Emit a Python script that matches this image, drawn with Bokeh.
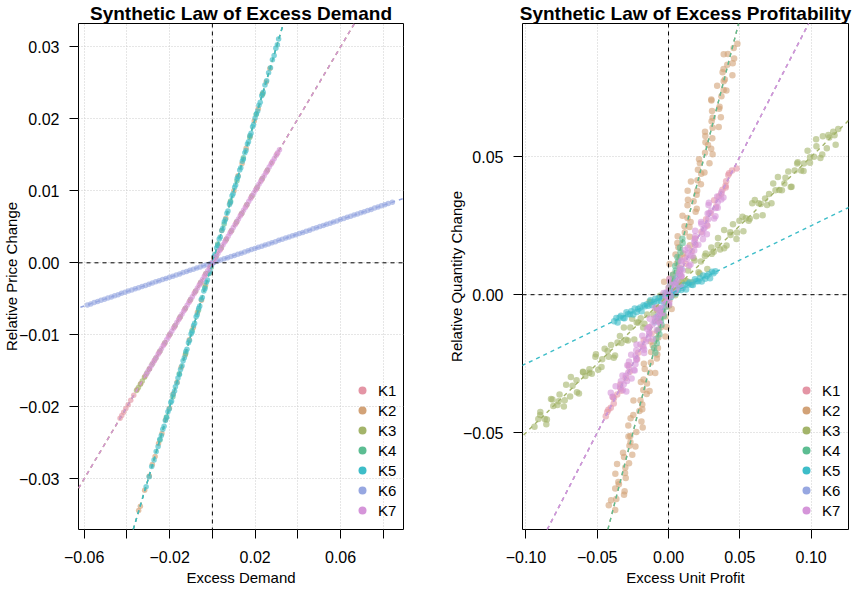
from bokeh.plotting import figure
from bokeh.models import (Range1d, FixedTicker, CustomJSTickFormatter, Slope, Span,
                          Legend, LegendItem)
from bokeh.layouts import row
from bokeh.embed import file_html
from bokeh.resources import INLINE

GROUPS = ["K1", "K2", "K3", "K4", "K5", "K6", "K7"]
COLORS = ["#E495A5", "#D2A277", "#A3B46A", "#5CBD92", "#3DBDC8", "#97A7E1", "#D595D9"]

# ---------------- left panel: excess demand vs relative price change ----------------
left_k1_x = [-.0432,-.0424,-.0415,-.0405,-.0394,-.0382,-.0368,-.0352,-.0335,-.0315,
             -.0294,-.0272,-.0250,-.0226,-.0202,-.0178,-.0154,-.0130,-.0106,-.0082,
             -.0058,-.0034,-.0010,.0014,.0038,.0062,.0086,.0110,.0134,.0158,
             .0182,.0206,.0230,.0254,.0278,.0302]
left_k1_y = [-.0216,-.0212,-.02075,-.02025,-.0197,-.0191,-.0184,-.0176,-.01675,-.01575,
             -.0147,-.0136,-.0125,-.0113,-.0101,-.0089,-.0077,-.0065,-.0053,-.0041,
             -.0029,-.0017,-.0005,.0007,.0019,.0031,.0043,.0055,.0067,.0079,
             .0091,.0103,.0115,.0127,.0139,.0151]
left_k2_x = [-.0345,-.0337,-.0317,-.0295,-.0281,-.0268,-.0252,-.0236,-.0219,-.0201,
             -.0183,-.0165,-.0146,-.0127,-.0108,-.0089,-.0070,-.0051,-.0032,-.0013,
             .0006,.0025,.0044,.0063,.0082,.0101,.0120,.0139,.0158,.0177,
             .0196,.0215,.0234,.0252,.0269]
left_k2_y = [-.0344,-.0338,-.0316,-.0296,-.0280,-.0269,-.0251,-.0237,-.0218,-.0202,
             -.0182,-.0166,-.0145,-.0128,-.0107,-.0090,-.0069,-.0052,-.0031,-.0014,
             .0007,.0024,.0045,.0062,.0083,.0100,.0121,.0138,.0159,.0176,
             .0197,.0214,.0235,.0251,.0270]
left_k3_x = [-.0355,-.0346,-.0337,-.0328,-.0318,-.0307,-.0295,-.0282,-.0265,-.0245,
             -.0222,-.0198,-.0174,-.0150,-.0126,-.0102,-.0078,-.0054,-.0030,-.0006,
             .0018,.0042,.0066,.0090,.0114,.0138,.0162,.0186,.0210,.0234,.0258]
left_k3_y = [-.01775,-.0173,-.01685,-.0164,-.0159,-.01535,-.01475,-.0141,-.01325,-.01225,
             -.0111,-.0099,-.0087,-.0075,-.0063,-.0051,-.0039,-.0027,-.0015,-.0003,
             .0009,.0021,.0033,.0045,.0057,.0069,.0081,.0093,.0105,.0117,.0129]
left_k4_x = [-.0245,-.0215,-.0185,-.0155,-.0125,-.0095,-.0065,-.0035,-.0005,.0025,
             .0055,.0085,.0115,.0145,.0175,.0205,.0235]
left_k4_y = [-.0246,-.0214,-.0186,-.0154,-.0126,-.0094,-.0066,-.0034,-.0006,.0026,
             .0054,.0086,.0114,.0146,.0174,.0206,.0234]
left_k5_x = [-.0310,-.0296,-.0284,-.0273,-.0263,-.0254,-.0246,-.0239,-.0232,-.0226,-.0220,-.0214,-.0208,
             -.0202,-.0195,-.0191,-.0184,-.0177,-.0173,-.0166,-.0161,-.0154,-.0149,
             -.0142,-.0137,-.0131,-.0124,-.0119,-.0112,-.0107,-.0100,-.0095,-.0088,
             -.0083,-.0076,-.0071,-.0064,-.0059,-.0052,-.0047,-.0040,-.0035,-.0028,
             -.0023,-.0016,-.0011,-.0004,.0001,.0008,.0013,.0020,.0025,.0032,
             .0037,.0044,.0049,.0056,.0061,.0068,.0073,.0080,.0085,.0092,
             .0097,.0104,.0109,.0116,.0121,.0128,.0133,.0140,.0145,.0152,
             .0157,.0164,.0169,.0176,.0181,.0188,.0193,.0200,
             .0206,.0212,.0218,.0224,.0231,.0238,.0246,.0254,.0263,.0272,.0281,.0289,.0297,.0304,.0310]
left_k5_y = [-.0311,-.0297,-.0283,-.0274,-.0262,-.0255,-.0245,-.0240,-.0231,-.0227,-.0219,-.0215,-.0207,
             -.0203,-.0194,-.0192,-.0183,-.0178,-.0172,-.0167,-.0160,-.0155,-.0148,
             -.0143,-.0136,-.0132,-.0123,-.0120,-.0111,-.0108,-.0099,-.0096,-.0087,
             -.0084,-.0075,-.0072,-.0063,-.0060,-.0051,-.0048,-.0039,-.0036,-.0027,
             -.0024,-.0015,-.0012,-.0003,.0000,.0009,.0012,.0021,.0024,.0033,
             .0036,.0045,.0048,.0057,.0060,.0069,.0072,.0081,.0084,.0093,
             .0096,.0105,.0108,.0117,.0120,.0129,.0132,.0141,.0144,.0153,
             .0156,.0165,.0168,.0177,.0180,.0189,.0192,.0201,
             .0207,.0211,.0219,.0223,.0232,.0237,.0247,.0253,.0264,.0271,.0282,.0288,.0298,.0303,.0311]
left_k6_x = [-.0585,-.0569,-.0553,-.0537,-.0521,-.0505,-.0489,-.0473,-.0457,-.0441,
             -.0425,-.0409,-.0393,-.0377,-.0361,-.0345,-.0329,-.0313,-.0297,-.0281,
             -.0265,-.0249,-.0233,-.0217,-.0201,-.0185,-.0169,-.0153,-.0137,-.0121,
             -.0105,-.0089,-.0073,-.0057,-.0041,-.0025,-.0009,.0007,.0023,.0039,
             .0055,.0071,.0087,.0103,.0119,.0135,.0151,.0167,.0183,.0199,
             .0215,.0231,.0247,.0263,.0279,.0295,.0311,.0327,.0343,.0359,
             .0375,.0391,.0407,.0423,.0439,.0455,.0471,.0487,.0503,.0519,
             .0535,.0551,.0567,.0583,.0599,.0615,.0631,.0647,.0663,.0679,
             .0695,.0711,.0727,.0743,.0759,.0775,.0791,.0807,.0823,.0842]
left_k6_y = [-.00585,-.00571,-.00552,-.00538,-.00520,-.00506,-.00488,-.00474,-.00456,-.00442,
             -.00424,-.00410,-.00392,-.00378,-.00360,-.00346,-.00328,-.00314,-.00296,-.00282,
             -.00264,-.00250,-.00232,-.00218,-.00200,-.00186,-.00168,-.00154,-.00136,-.00122,
             -.00104,-.00090,-.00072,-.00058,-.00040,-.00026,-.00008,.00006,.00024,.00038,
             .00056,.00070,.00088,.00102,.00120,.00134,.00152,.00166,.00184,.00198,
             .00216,.00230,.00248,.00262,.00280,.00294,.00312,.00326,.00344,.00358,
             .00376,.00390,.00408,.00422,.00440,.00454,.00472,.00486,.00504,.00518,
             .00536,.00550,.00568,.00582,.00600,.00614,.00632,.00646,.00664,.00678,
             .00696,.00710,.00728,.00742,.00760,.00774,.00792,.00806,.00824,.00842]
left_k7_x = [-.0310,-.0302,-.0294,-.0286,-.0278,-.0270,-.0262,-.0254,-.0246,-.0238,
             -.0230,-.0222,-.0214,-.0206,-.0198,-.0190,-.0182,-.0174,-.0166,-.0158,
             -.0150,-.0142,-.0134,-.0126,-.0118,-.0110,-.0102,-.0094,-.0086,-.0078,
             -.0070,-.0062,-.0054,-.0046,-.0038,-.0030,-.0022,-.0014,-.0006,.0002,
             .0010,.0018,.0026,.0034,.0042,.0050,.0058,.0066,.0074,.0082,
             .0090,.0098,.0106,.0114,.0122,.0130,.0138,.0146,.0154,.0162,
             .0170,.0178,.0186,.0194,.0202,.0210,.0218,.0226,.0234,.0242,
             .0250,.0258,.0266,.0274,.0282,.0290,.0298,.0306,.0314]
left_k7_y = [-.0155,-.0151,-.0147,-.0143,-.0139,-.0135,-.0131,-.0127,-.0123,-.0119,
             -.0115,-.0111,-.0107,-.0103,-.0099,-.0095,-.0091,-.0087,-.0083,-.0079,
             -.0075,-.0071,-.0067,-.0063,-.0059,-.0055,-.0051,-.0047,-.0043,-.0039,
             -.0035,-.0031,-.0027,-.0023,-.0019,-.0015,-.0011,-.0007,-.0003,.0001,
             .0005,.0009,.0013,.0017,.0021,.0025,.0029,.0033,.0037,.0041,
             .0045,.0049,.0053,.0057,.0061,.0065,.0069,.0073,.0077,.0081,
             .0085,.0089,.0093,.0097,.0101,.0105,.0109,.0113,.0117,.0121,
             .0125,.0129,.0133,.0137,.0141,.0145,.0149,.0153,.0157]
left_slopes = [0.5, 1.0, 0.5, 1.0, 1.0, 0.1, 0.5]
left_xticks = [-0.06, -0.04, -0.02, 0.0, 0.02, 0.04, 0.06, 0.08]
left_xlabels = ["\u22120.06", "", "\u22120.02", "", "0.02", "", "0.06", ""]
left_yticks = [-0.03, -0.02, -0.01, 0.0, 0.01, 0.02, 0.03]
left_ylabels = ["\u22120.03", "\u22120.02", "\u22120.01", "0.00", "0.01", "0.02", "0.03"]

# ---------------- right panel: excess unit profit vs relative quantity change ----------------
right_k1_x = [-.0440,-.0422,-.0384,-.0391,-.0330,-.0338,-.0300,-.0272,-.0281,-.0220,
              -.0213,-.0182,-.0174,-.0119,-.0133,-.0095,-.0057,-.0057,-.0016,-.0021,
              .0023,.0038,.0086,.0077,.0120,.0113,.0163,.0189,.0187,.0230,
              .0273,.0263,.0294,.0334,.0320,.0370,.0401,.0404,.0419,.0477,
              .0445,.0425,.0400,.0378,.0352,-.0430,-.0405,-.0383,-.0360,-.0337]
right_k1_y = [-.0440,-.0417,-.0394,-.0371,-.0348,-.0325,-.0302,-.0279,-.0256,-.0233,
              -.0210,-.0187,-.0164,-.0141,-.0118,-.0095,-.0072,-.0049,-.0026,-.0003,
              .0020,.0043,.0066,.0089,.0112,.0135,.0158,.0181,.0204,.0227,
              .0250,.0273,.0296,.0319,.0342,.0365,.0388,.0411,.0434,.0457,
              .0450,.0440,.0395,.0380,.0356,-.0425,-.0410,-.0375,-.0362,-.0340]
right_k2_x = [-.0374,-.0419,-.0366,-.0312,-.0374,-.0348,-.0300,-.0373,-.0303,-.0277,
              -.0312,-.0319,-.0232,-.0267,-.0268,-.0226,-.0282,-.0190,-.0247,-.0204,
              -.0184,-.0246,-.0153,-.0177,-.0151,-.0175,-.0093,-.0167,-.0124,-.0082,
              -.0122,-.0074,-.0125,-.0071,-.0078,-.0014,-.0076,-.0022,-.0079,-.0008,
              .0007,-.0039,.0015,.0068,.0006,.0032,.0080,.0007,.0077,.0103,
              .0069,.0062,.0148,.0114,.0112,.0155,.0098,.0190,.0133,.0176,
              .0197,.0134,.0227,.0203,.0229,.0206,.0287,.0214,.0256,.0299,
              .0259,.0307,.0256,.0309,.0302,.0367,.0305,.0358,.0301,.0371,
              .0387,.0341,.0395,.0448,.0386,.0412,.0460,.0387,.0457,.0483,
              -.0403,-.0308,-.0352,-.0305,-.0361,-.0254,-.0274,-.0281,-.0181,-.0266,
              -.0184,-.0197,-.0133,-.0194,-.0130,-.0173,-.0079,-.0110,-.0022,-.0053,
              -.0073,.0022,-.0022,.0025,-.0031,.0076,.0057,.0049,.0150,.0064,
              .0147,.0133,.0198,.0136,.0201,.0157,.0252,.0220,.0309,.0277,
              .0258,.0352,.0309,.0355,.0300,.0406,.0387,.0379,.0450,.0416]
right_k2_y = [-.0780,-.0763,-.0740,-.0725,-.0702,-.0687,-.0664,-.0649,-.0626,-.0611,
              -.0588,-.0573,-.0550,-.0535,-.0512,-.0497,-.0474,-.0459,-.0436,-.0421,
              -.0398,-.0383,-.0360,-.0345,-.0322,-.0307,-.0284,-.0269,-.0246,-.0231,
              -.0208,-.0193,-.0170,-.0155,-.0132,-.0117,-.0094,-.0079,-.0056,-.0041,
              -.0018,-.0003,.0020,.0035,.0058,.0073,.0096,.0111,.0134,.0149,
              .0172,.0187,.0210,.0225,.0248,.0263,.0286,.0301,.0324,.0339,
              .0362,.0377,.0400,.0415,.0438,.0453,.0476,.0491,.0514,.0529,
              .0552,.0567,.0590,.0605,.0628,.0643,.0666,.0681,.0704,.0719,
              .0742,.0757,.0780,.0795,.0818,.0833,.0856,.0871,.0894,.0909,
              -.0745,-.0712,-.0679,-.0646,-.0613,-.0580,-.0547,-.0514,-.0481,-.0448,
              -.0415,-.0382,-.0349,-.0316,-.0283,-.0250,-.0217,-.0184,-.0151,-.0118,
              -.0085,-.0052,-.0019,.0014,.0047,.0080,.0113,.0146,.0179,.0212,
              .0245,.0278,.0311,.0344,.0377,.0410,.0443,.0476,.0509,.0542,
              .0575,.0608,.0641,.0674,.0707,.0740,.0773,.0806,.0839,.0872]
right_k3_x = [-.0940,-.0913,-.0899,-.0868,-.0853,-.0824,-.0808,-.0779,-.0764,-.0734,
              -.0718,-.0690,-.0673,-.0645,-.0628,-.0600,-.0583,-.0555,-.0538,-.0509,
              -.0493,-.0465,-.0448,-.0420,-.0403,-.0375,-.0358,-.0330,-.0313,-.0285,
              -.0268,-.0240,-.0223,-.0195,-.0178,-.0150,-.0133,-.0105,-.0088,-.0060,
              -.0043,-.0015,.0002,.0030,.0047,.0075,.0092,.0120,.0137,.0165,
              .0182,.0210,.0227,.0255,.0272,.0300,.0317,.0345,.0362,.0390,
              .0407,.0435,.0452,.0480,.0497,.0525,.0542,.0570,.0587,.0615,
              .0632,.0660,.0677,.0705,.0722,.0750,.0767,.0795,.0812,.0840,
              .0857,.0885,.0902,.0930,.0947,.0975,.0992,.1020,.1037,.1065,
              .1082,.1110,.1127,.1155,.1172,
              -.0900,-.0857,-.0814,-.0771,-.0728,-.0685,-.0642,-.0599,-.0556,-.0513,
              -.0470,-.0427,-.0384,-.0341,-.0298,-.0255,-.0212,-.0169,-.0126,-.0083,
              -.0040,.0003,.0046,.0089,.0132,.0175,.0218,.0261,.0304,.0347,
              .0390,.0433,.0476,.0519,.0562,.0605,.0648,.0691,.0734,.0777,
              .0820,.0863,.0906,.0949,.0992,.1035,.1078,.1121,.1164,.1190]
right_k3_y = [-.0478,-.0450,-.0425,-.0450,-.0452,-.0378,-.0403,-.0400,-.0362,-.0405,
              -.0326,-.0369,-.0330,-.0310,-.0358,-.0279,-.0295,-.0270,-.0286,-.0216,
              -.0272,-.0234,-.0196,-.0225,-.0182,-.0220,-.0173,-.0175,-.0119,-.0166,
              -.0119,-.0162,-.0101,-.0085,-.0119,-.0072,-.0025,-.0072,-.0047,-.0004,
              -.0061,.0000,.0025,.0000,-.0002,.0072,.0048,.0050,.0088,.0045,
              .0124,.0081,.0120,.0140,.0093,.0171,.0156,.0180,.0164,.0234,
              .0178,.0216,.0255,.0225,.0268,.0230,.0277,.0275,.0331,.0284,
              .0331,.0288,.0349,.0365,.0331,.0378,.0426,.0378,.0403,.0446,
              .0390,.0450,.0475,.0450,.0448,.0522,.0498,.0500,.0538,.0495,
              .0574,.0531,.0570,.0590,.0543,
              -.0436,-.0469,-.0380,-.0386,-.0382,-.0298,-.0353,-.0281,-.0283,-.0225,
              -.0262,-.0204,-.0228,-.0150,-.0163,-.0087,-.0101,-.0105,-.0027,-.0051,
              -.0006,-.0039,.0050,.0045,.0048,.0133,.0077,.0149,.0148,.0205,
              .0168,.0226,.0202,.0282,.0268,.0343,.0329,.0325,.0403,.0379,
              .0424,.0391,.0480,.0475,.0478,.0563,.0508,.0579,.0578,.0600]
right_k4_x = [-.0093,-.0101,-.0082,-.0086,-.0064,-.0070,-.0049,-.0053,-.0033,-.0036,
              -.0016,-.0020,.0001,-.0004,.0019,.0012,.0036,.0030,.0050,.0047,
              .0068,.0062,.0084,.0080,.0099,.0097]
right_k4_y = [-.0210,-.0193,-.0176,-.0160,-.0143,-.0127,-.0110,-.0094,-.0077,-.0061,
              -.0044,-.0028,-.0011,.0005,.0022,.0038,.0055,.0071,.0088,.0104,
              .0121,.0137,.0154,.0170,.0187,.0203]
right_k5_x = [-.0381,-.0366,-.0357,-.0343,-.0333,-.0318,-.0309,-.0295,-.0285,-.0271,
              -.0261,-.0247,-.0237,-.0223,-.0213,-.0199,-.0189,-.0175,-.0165,-.0151,
              -.0141,-.0127,-.0117,-.0103,-.0093,-.0079,-.0069,-.0055,-.0045,-.0031,
              -.0021,-.0007,.0003,.0017,.0027,.0041,.0051,.0065,.0075,.0089,
              .0099,.0113,.0123,.0137,.0147,.0161,.0171,.0185,.0195,.0209,
              .0219,.0233,.0243,.0257,.0267,.0281,.0291,.0305,.0315,.0329]
right_k5_y = [-.0096,-.0084,-.0101,-.0083,-.0076,-.0084,-.0085,-.0064,-.0071,-.0071,
              -.0060,-.0072,-.0050,-.0063,-.0052,-.0046,-.0060,-.0038,-.0042,-.0035,
              -.0040,-.0020,-.0037,-.0026,-.0015,-.0024,-.0012,-.0023,-.0010,-.0011,
              .0005,-.0008,.0005,-.0008,.0010,.0014,.0004,.0017,.0031,.0017,
              .0024,.0036,.0019,.0037,.0044,.0036,.0035,.0056,.0049,.0049,
              .0060,.0048,.0070,.0058,.0068,.0074,.0060,.0083,.0078,.0085]
right_k6_x = [-.0098,-.0085,-.0071,-.0058,-.0043,-.0031,-.0017,-.0004,.0009,.0022,
              .0036,.0049,.0063,.0077,.0091]
right_k6_y = [-.0101,-.0082,-.0074,-.0055,-.0046,-.0028,-.0019,-.0002,.0011,.0020,
              .0038,.0047,.0065,.0075,.0093]
right_k7_x = [-.0405,-.0320,-.0339,-.0314,-.0334,-.0259,-.0323,-.0283,-.0243,-.0277,
              -.0232,-.0277,-.0226,-.0231,-.0171,-.0226,-.0175,-.0225,-.0160,-.0144,
              -.0184,-.0134,-.0083,-.0138,-.0113,-.0068,-.0132,-.0067,-.0042,-.0071,
              -.0076,.0004,-.0025,-.0025,.0015,-.0035,.0051,.0001,.0041,.0062,
              .0007,.0092,.0073,.0098,.0078,.0154,.0089,.0129,.0169,.0135,
              .0180,.0135,.0186,.0181,.0241,.0187,.0237,.0187,.0252,.0268,
              .0228,.0278,.0329,.0274,.0299,.0345,.0280,.0345,.0370,.0341,
              -.0392,-.0296,-.0371,-.0291,-.0300,-.0237,-.0289,-.0226,-.0262,-.0171,
              -.0197,-.0111,-.0137,-.0151,-.0060,-.0096,-.0050,-.0097,.0005,-.0009,
              -.0012,.0084,.0010,.0089,.0081,.0144,.0091,.0154,.0118,.0209,
              .0184,.0269,.0244,.0230,.0320,.0284,.0331,.0283,.0385,.0371]
right_k7_y = [-.0355,-.0345,-.0334,-.0324,-.0314,-.0304,-.0293,-.0283,-.0273,-.0262,
              -.0252,-.0242,-.0231,-.0221,-.0211,-.0201,-.0190,-.0180,-.0170,-.0159,
              -.0149,-.0139,-.0128,-.0118,-.0108,-.0098,-.0087,-.0077,-.0067,-.0056,
              -.0046,-.0036,-.0025,-.0015,-.0005,.0006,.0016,.0026,.0036,.0047,
              .0057,.0067,.0078,.0088,.0098,.0109,.0119,.0129,.0139,.0150,
              .0160,.0170,.0181,.0191,.0201,.0212,.0222,.0232,.0242,.0253,
              .0263,.0273,.0284,.0294,.0304,.0315,.0325,.0335,.0345,.0356,
              -.0370,-.0351,-.0332,-.0313,-.0294,-.0275,-.0256,-.0237,-.0218,-.0199,
              -.0180,-.0161,-.0142,-.0123,-.0104,-.0085,-.0066,-.0047,-.0028,-.0009,
              .0010,.0029,.0048,.0067,.0086,.0105,.0124,.0143,.0162,.0181,
              .0200,.0219,.0238,.0257,.0276,.0295,.0314,.0333,.0352,.0371]
right_slopes = [1.0, 2.0, 0.5, 2.0, 0.25, 1.0, 1.0]
right_xticks = [-0.10, -0.05, 0.0, 0.05, 0.10]
right_xlabels = ["\u22120.10", "\u22120.05", "0.00", "0.05", "0.10"]
right_yticks = [-0.05, 0.0, 0.05]
right_ylabels = ["\u22120.05", "0.00", "0.05"]

FONT = "Liberation Sans"
JS_FMT = """
let b = 0;
for (let i = 0; i < vals.length; i++) {
  if (Math.abs(vals[i] - tick) < Math.abs(vals[b] - tick)) b = i;
}
return labs[b];
"""


def make_panel(title, xlabel, ylabel, xr, yr, xticks, xlabels, yticks, ylabels,
               series, slopes, width, border_left, border_right, psize, palpha,
               ylabel_standoff):
    p = figure(width=width, height=590, output_backend="svg", toolbar_location=None,
               x_range=Range1d(*xr), y_range=Range1d(*yr),
               min_border_left=border_left, min_border_right=border_right,
               min_border_top=23, min_border_bottom=61)
    p.background_fill_color = "white"
    p.border_fill_color = "white"
    p.outline_line_color = "black"
    p.outline_line_width = 1
    p.outline_line_alpha = 1

    p.title.text = title
    p.title.align = "center"
    p.title.text_font = FONT
    p.title.text_font_size = "19px"
    p.title.text_font_style = "bold"
    p.title.text_color = "black"
    p.title.standoff = 0
    p.title.offset = 0

    xt = FixedTicker(ticks=xticks)
    yt = FixedTicker(ticks=yticks)
    p.xaxis.ticker = xt
    p.yaxis.ticker = yt
    p.xgrid.ticker = xt
    p.ygrid.ticker = yt
    p.xaxis.formatter = CustomJSTickFormatter(args=dict(vals=xticks, labs=xlabels), code=JS_FMT)
    p.yaxis.formatter = CustomJSTickFormatter(args=dict(vals=yticks, labs=ylabels), code=JS_FMT)
    for ax in (p.xaxis, p.yaxis):
        ax.axis_line_color = None
        ax.major_tick_line_color = "black"
        ax.major_tick_in = 0
        ax.major_tick_out = 9
        ax.minor_tick_line_color = None
        ax.major_label_text_font = FONT
        ax.major_label_text_font_size = "16px"
        ax.major_label_text_color = "black"
        ax.axis_label_text_font = FONT
        ax.axis_label_text_font_size = "15px"
        ax.axis_label_text_font_style = "normal"
        ax.axis_label_text_color = "black"
    p.xaxis.major_label_standoff = 12
    p.yaxis.major_label_standoff = 10
    p.xaxis.axis_label = xlabel
    p.yaxis.axis_label = ylabel
    p.xaxis.axis_label_standoff = 3
    p.yaxis.axis_label_standoff = ylabel_standoff
    for g in (p.xgrid, p.ygrid):
        g.grid_line_color = "#CCCCCC"
        g.grid_line_dash = "1 2"
        g.grid_line_width = 1

    for (xs, ys), c in zip(series, COLORS):
        n = min(len(xs), len(ys))
        p.scatter(x=xs[:n], y=ys[:n], size=psize, fill_color=c, fill_alpha=palpha,
                  line_color=None, marker="circle")

    for s, c in zip(slopes, COLORS):
        p.add_layout(Slope(gradient=s, y_intercept=0, line_color=c, line_width=1.4,
                           line_dash="4 4"))
    p.add_layout(Span(location=0, dimension="width", line_color="black",
                      line_width=1, line_dash="4 4"))
    p.add_layout(Span(location=0, dimension="height", line_color="black",
                      line_width=1, line_dash="4 4"))

    # legend key renderers: one point per group mapped on an off-view x range,
    # so only the legend swatch (full colour, larger dot) is visible
    p.extra_x_ranges = {"legend_keys": Range1d(10, 11)}
    items = []
    for gname, (xs, ys), c in zip(GROUPS, series, COLORS):
        r = p.scatter(x=xs[:1], y=ys[:1], size=8.7, fill_color=c, fill_alpha=1.0,
                      line_color=None, marker="circle", x_range_name="legend_keys")
        items.append(LegendItem(label=gname, renderers=[r]))
    leg = Legend(items=items, location=(273, 9), padding=0, margin=0, spacing=0,
                 glyph_height=20, glyph_width=22, label_height=20, label_standoff=5,
                 label_text_font=FONT, label_text_font_size="15px",
                 label_text_color="black", border_line_color=None,
                 background_fill_alpha=0)
    p.add_layout(leg)
    return p


left_series = [(left_k1_x, left_k1_y), (left_k2_x, left_k2_y), (left_k3_x, left_k3_y),
               (left_k4_x, left_k4_y), (left_k5_x, left_k5_y), (left_k6_x, left_k6_y),
               (left_k7_x, left_k7_y)]
right_series = [(right_k1_x, right_k1_y), (right_k2_x, right_k2_y), (right_k3_x, right_k3_y),
                (right_k4_x, right_k4_y), (right_k5_x, right_k5_y), (right_k6_x, right_k6_y),
                (right_k7_x, right_k7_y)]

p1 = make_panel("Synthetic Law of Excess Demand", "Excess Demand", "Relative Price Change",
                (-0.06265, 0.08944), (-0.03704, 0.03324),
                left_xticks, left_xlabels, left_yticks, left_ylabels,
                left_series, left_slopes, 427, 76, 24, 5.5, 0.65, -4)
p2 = make_panel("Synthetic Law of Excess Profitability", "Excess Unit Profit",
                "Relative Quantity Change",
                (-0.1024, 0.1262), (-0.08507, 0.09826),
                right_xticks, right_xlabels, right_yticks, right_ylabels,
                right_series, right_slopes, 425, 95, 4, 6.5, 0.6, -5)

layout = row(p1, p2)
open("out.html", "w").write(file_html(layout, INLINE))
